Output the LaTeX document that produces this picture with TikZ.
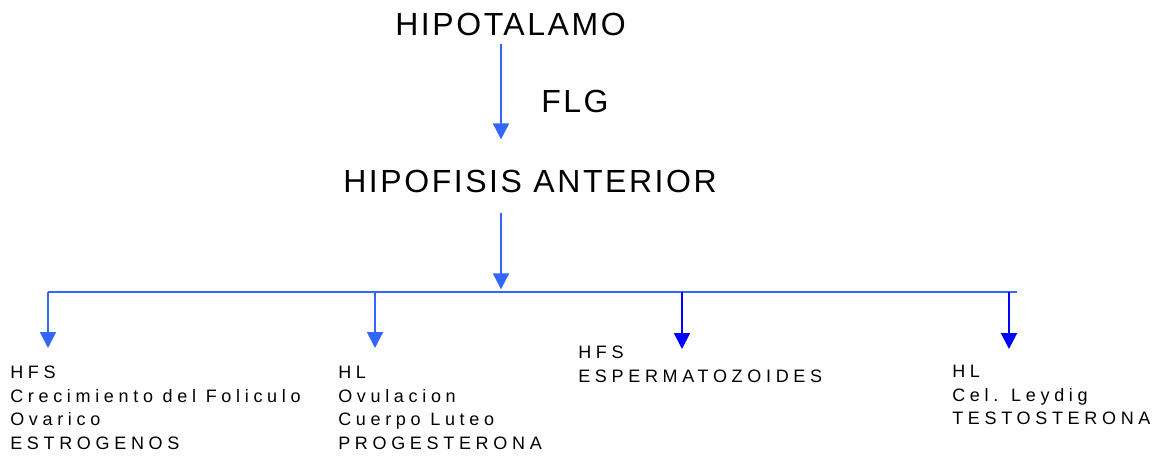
\documentclass[tikz,border=0pt]{standalone}
\usepackage{fontspec}
\setmainfont{Liberation Sans}
\newfontfamily\titlefont[LetterSpace=8]{Liberation Sans}
\newfontfamily\hormfont[LetterSpace=26]{Liberation Sans}
\usetikzlibrary{arrows.meta,positioning}
\definecolor{flowblue}{RGB}{51,102,255}
\definecolor{deepblue}{RGB}{0,0,255}

\begin{document}
\begin{tikzpicture}[x=0.75pt,y=-0.75pt,
  organ/.style={font=\fontsize{24}{28}\selectfont\titlefont,inner sep=0pt,anchor=base west},
  hormone/.style={font=\fontsize{13.5}{17.6}\selectfont\hormfont,inner sep=0pt,anchor=north west,align=left},
  flow/.style={draw=flowblue,line width=1.5pt,-{Triangle[width=12pt,length=12pt]}},
  flowdeep/.style={flow,draw=deepblue,fill=deepblue}]
\useasboundingbox (0,0) rectangle (1162,457);
\node[organ] (hipo) at (395,35) {HIPOTALAMO};
\node[organ] (flg) at (541,112) {FLG};
\node[organ] (hipof) at (343,192) {HIPOFISIS ANTERIOR};
\coordinate (bus) at (501,292);
\coordinate (busend) at (1017,292);
\coordinate (b1) at (48,292);
\coordinate (b2) at (375,292);
\coordinate (b3) at (682,292);
\coordinate (b4) at (1009,292);
\draw[flow,fill=flowblue,shorten <=6pt,shorten >=22.5pt] (hipo.south -| bus) -- (hipof.north -| bus);
\draw[flow,fill=flowblue,shorten <=15pt,shorten >=2pt] (hipof.south -| bus) -- (bus);
\draw[flowblue,line width=1.5pt] (b1) -- (busend);
% branches
\foreach \b in {b1,b2}
  \draw[flow,fill=flowblue] (\b) -- ++(0,56);
\foreach \b in {b3,b4}
  \draw[flowdeep] (\b) -- ++(0,57);
\node[hormone] (fem1) at (10,366) {HFS\\Crecimiento del Foliculo\\Ovarico\\ESTROGENOS};
\node[hormone] (fem2) at (338,366) {HL\\Ovulacion\\Cuerpo Luteo\\PROGESTERONA};
\node[hormone] (mas1) at (578,346) {HFS\\ESPERMATOZOIDES};
\node[hormone] (mas2) at (952,365) {HL\\Cel. Leydig\\TESTOSTERONA};
\end{tikzpicture}
\end{document}
